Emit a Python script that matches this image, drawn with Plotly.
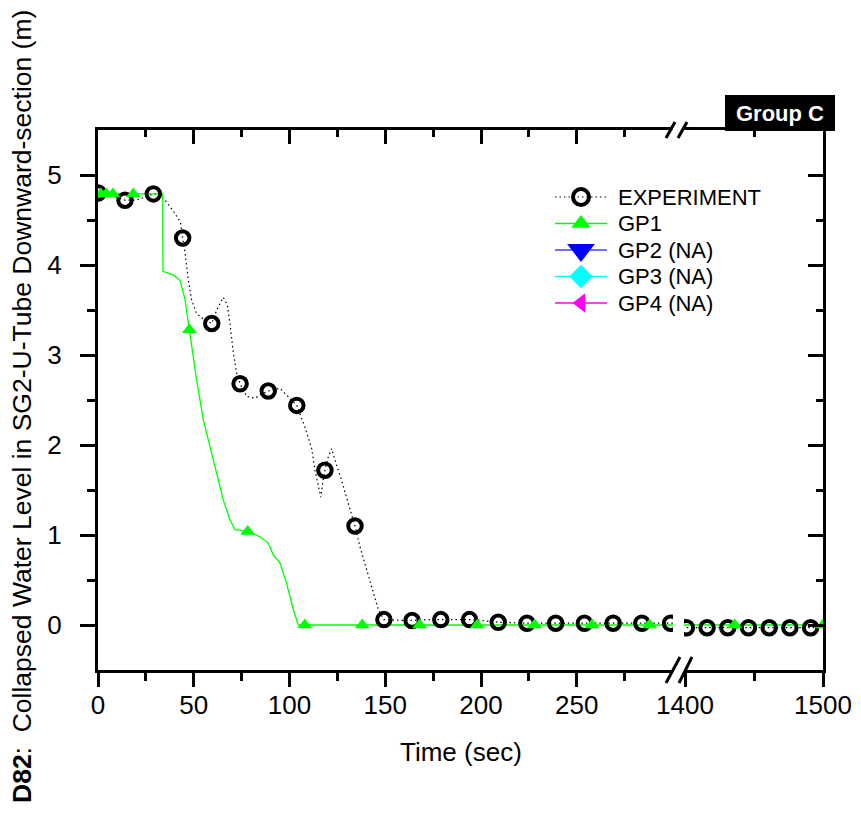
import plotly.graph_objects as go

# ---------------- data ----------------
# EXPERIMENT: continuous (dotted) record
exp_t = [0, 5, 10, 14, 20, 25, 29, 32, 35, 39, 43, 44.2, 45.4, 47.2, 48.9, 51.5, 55, 59.4,
         62, 65.4, 67.5, 68.9, 70.7, 72.4, 74.2, 77.6, 82, 85, 88.9, 95, 99.4, 103.8, 108,
         111.6, 113.3, 115, 116.3, 117.3, 118.5, 120.3, 122, 123.8, 127.2, 130.7, 134.2,
         136.8, 140.3, 143.8, 146.4, 149.3, 160, 175, 195, 210, 225, 240, 270, 301]
exp_y = [4.80, 4.78, 4.75, 4.72, 4.72, 4.76, 4.79, 4.78, 4.72, 4.61, 4.48, 4.30, 4.15, 3.83,
         3.61, 3.46, 3.40, 3.35, 3.50, 3.64, 3.56, 3.35, 3.02, 2.80, 2.68, 2.54, 2.52, 2.56,
         2.60, 2.63, 2.54, 2.44, 2.20, 1.96, 1.72, 1.54, 1.42, 1.57, 1.72, 1.87, 1.96, 1.83,
         1.61, 1.35, 1.10, 0.87, 0.61, 0.35, 0.17, 0.06, 0.05, 0.06, 0.06, 0.03, 0.02, 0.02,
         0.02, 0.02]
# EXPERIMENT symbols
exp_mt = [0, 14.1, 28.9, 44.2, 59.4, 74.2, 88.9, 103.8, 118.5, 134.2, 149.3, 164, 179, 194,
          209, 224, 239, 254, 269, 284, 299]
exp_my = [4.80, 4.72, 4.79, 4.30, 3.35, 2.68, 2.60, 2.44, 1.72, 1.10, 0.06, 0.05, 0.06, 0.06,
          0.03, 0.02, 0.02, 0.02, 0.02, 0.02, 0.02]
# EXPERIMENT, late segment (1400-1500 s)
exp_rt = [1398, 1500]
exp_ry = [-0.03, -0.03]
exp_rmt = [1401, 1416, 1431, 1446, 1461, 1476, 1491]
exp_rmy = [-0.03, -0.03, -0.03, -0.03, -0.03, -0.03, -0.03]

# GP1 continuous curve
gp1_t = [0, 33.8, 33.9, 39.3, 42.8, 45.4, 47.7, 51.5, 55, 58.5, 62, 65.4, 68.9, 71.5, 78.2,
         84.6, 88.9, 91.5, 95, 98.5, 102, 104.6, 301]
gp1_y = [4.79, 4.79, 3.93, 3.89, 3.83, 3.62, 3.28, 2.72, 2.28, 1.98, 1.69, 1.39, 1.17, 1.06,
         1.04, 0.98, 0.91, 0.78, 0.69, 0.46, 0.17, 0.0, 0.0]
gp1_mt = [1.5, 4.3, 7.8, 18.4, 47.7, 78.2, 108, 138, 168, 198, 228, 258, 288]
gp1_my = [4.79, 4.79, 4.79, 4.79, 3.28, 1.04, 0, 0, 0, 0, 0, 0, 0]
gp1_rt = [1398, 1500]
gp1_ry = [0, 0]
gp1_rmt = [1436, 1500]
gp1_rmy = [0, 0]

legend_names = ["EXPERIMENT", "GP1", "GP2 (NA)", "GP3 (NA)", "GP4 (NA)"]

x_left_ticks = [0, 50, 100, 150, 200, 250]
x_left_minor = [25, 75, 125, 175, 225, 275]
x_right_ticks = [1400, 1500]
x_right_minor = [1450]
y_ticks = [0, 1, 2, 3, 4, 5]
y_minor = [0.5, 1.5, 2.5, 3.5, 4.5]

# ---------------- styles ----------------
FONT = "Liberation Sans, Arial, sans-serif"
BLACK = "#000000"
GREEN = "#00ff00"
exp_line = dict(color=BLACK, width=1.2, dash="1.5px,3px")
exp_marker = dict(symbol="circle-open", size=13.5, color=BLACK, line=dict(color=BLACK, width=4))
gp1_line = dict(color=GREEN, width=1.3)
gp1_marker = dict(symbol="triangle-up", size=13, color=GREEN)

legend_styles = [
    dict(line=exp_line, marker=dict(symbol="circle-open", size=16, color=BLACK,
                                    line=dict(color=BLACK, width=4))),
    dict(line=gp1_line, marker=dict(symbol="triangle-up", size=17, color=GREEN)),
    dict(line=dict(color="#4040ff", width=1.5), marker=dict(symbol="triangle-down", size=24,
                                                           color="#0000ff")),
    dict(line=dict(color="#00ffff", width=1.5), marker=dict(symbol="diamond", size=18,
                                                           color="#00ffff")),
    dict(line=dict(color="#ff00ff", width=1.5), marker=dict(symbol="triangle-left", size=17,
                                                           color="#ff00ff")),
]

fig = go.Figure()

# left segment
fig.add_trace(go.Scatter(x=exp_t, y=exp_y, mode="lines", line=exp_line, name="EXPERIMENT",
                         showlegend=False, xaxis="x", yaxis="y"))
fig.add_trace(go.Scatter(x=gp1_t, y=gp1_y, mode="lines", line=gp1_line, name="GP1",
                         showlegend=False, xaxis="x", yaxis="y"))
fig.add_trace(go.Scatter(x=exp_mt, y=exp_my, mode="markers", marker=exp_marker,
                         name="EXPERIMENT", showlegend=False, xaxis="x", yaxis="y"))
fig.add_trace(go.Scatter(x=gp1_mt, y=gp1_my, mode="markers", marker=gp1_marker, name="GP1",
                         showlegend=False, xaxis="x", yaxis="y"))
# right segment
fig.add_trace(go.Scatter(x=exp_rt, y=exp_ry, mode="lines", line=exp_line, name="EXPERIMENT",
                         showlegend=False, xaxis="x2", yaxis="y"))
fig.add_trace(go.Scatter(x=gp1_rt, y=gp1_ry, mode="lines", line=gp1_line, name="GP1",
                         showlegend=False, xaxis="x2", yaxis="y"))
fig.add_trace(go.Scatter(x=exp_rmt, y=exp_rmy, mode="markers", marker=exp_marker,
                         name="EXPERIMENT", showlegend=False, xaxis="x2", yaxis="y"))
fig.add_trace(go.Scatter(x=gp1_rmt, y=gp1_rmy, mode="markers", marker=gp1_marker, name="GP1",
                         showlegend=False, xaxis="x2", yaxis="y"))

# empty traces so the mirrored (top / right) frame axes get drawn
for xa, ya in [("x3", "y"), ("x4", "y"), ("x2", "y2")]:
    fig.add_trace(go.Scatter(x=[None], y=[None], mode="lines", showlegend=False,
                             hoverinfo="skip", xaxis=xa, yaxis=ya))

# legend block (own small hidden axes: row index 0..4, sample line 0..1)
for i, (nm, st) in enumerate(zip(legend_names, legend_styles)):
    fig.add_trace(go.Scatter(x=[0, 1], y=[i, i], mode="lines", line=st["line"], name=nm,
                             showlegend=False, hoverinfo="skip", xaxis="x5", yaxis="y3",
                             cliponaxis=False))
    fig.add_trace(go.Scatter(x=[0.5], y=[i], mode="markers", marker=st["marker"], name=nm,
                             showlegend=False, xaxis="x5", yaxis="y3", cliponaxis=False))

W, H = 861, 839
L, R, T, B = 98, 823, 130, 670
pw, ph = R - L, B - T
d1 = (673 - L) / pw
d2 = (684 - L) / pw
xr_left = [0, (673 - L) / 1.915]
xr_right = [1400 - 1 / 1.38, 1500]
yr = [-0.5, 5.5]


def px(xp):
    return (xp - L) / pw


def py(yp):
    return (B - yp) / ph


tickfont = dict(family=FONT, size=26, color=BLACK)
common_x = dict(showgrid=False, zeroline=False, showline=True, linecolor=BLACK, linewidth=3,
                ticks="outside", ticklen=14, tickwidth=3, tickcolor=BLACK, tickfont=tickfont,
                ticklabelstandoff=-4)

fig.update_layout(
    width=W, height=H,
    margin=dict(l=L, r=W - R, t=T, b=H - B, autoexpand=False),
    paper_bgcolor="white", plot_bgcolor="white",
    font=dict(family=FONT, color=BLACK),
    showlegend=False,
    xaxis=dict(domain=[0, d1], range=xr_left, tickmode="array", tickvals=x_left_ticks,
               minor=dict(tickvals=x_left_minor, ticks="outside", ticklen=8, tickwidth=3,
                          tickcolor=BLACK),
               anchor="y", **common_x),
    xaxis2=dict(domain=[d2, 1], range=xr_right, tickmode="array", tickvals=x_right_ticks,
                minor=dict(tickvals=x_right_minor, ticks="outside", ticklen=8, tickwidth=3,
                           tickcolor=BLACK),
                anchor="y", **common_x),
    xaxis3=dict(overlaying="x", side="top", anchor="y", range=xr_left, showgrid=False,
                zeroline=False, showline=True, linecolor=BLACK, linewidth=3,
                tickmode="array", tickvals=x_left_ticks, showticklabels=False,
                ticks="inside", ticklen=14, tickwidth=3, tickcolor=BLACK,
                minor=dict(tickvals=x_left_minor, ticks="inside", ticklen=7, tickwidth=3,
                           tickcolor=BLACK)),
    xaxis4=dict(overlaying="x2", side="top", anchor="y", range=xr_right, showgrid=False,
                zeroline=False, showline=True, linecolor=BLACK, linewidth=3,
                tickmode="array", tickvals=[], showticklabels=False,
                ticks="inside", ticklen=14, tickwidth=3, tickcolor=BLACK,
                minor=dict(tickvals=x_right_minor, ticks="inside", ticklen=7, tickwidth=3,
                           tickcolor=BLACK)),
    yaxis=dict(domain=[0, 1], range=yr, anchor="x", showgrid=False, zeroline=False,
               showline=True, linecolor=BLACK, linewidth=3, tickmode="array",
               tickvals=y_ticks, ticks="outside", ticklen=15, tickwidth=3, tickcolor=BLACK,
               tickfont=tickfont, ticklabelstandoff=13,
               minor=dict(tickvals=y_minor, ticks="outside", ticklen=8, tickwidth=3,
                          tickcolor=BLACK)),
    yaxis2=dict(overlaying="y", side="right", anchor="x2", range=yr, showgrid=False,
                zeroline=False, showline=True, linecolor=BLACK, linewidth=3,
                tickmode="array", tickvals=y_ticks, showticklabels=False,
                ticks="inside", ticklen=15, tickwidth=3, tickcolor=BLACK,
                minor=dict(tickvals=y_minor, ticks="inside", ticklen=7, tickwidth=3,
                           tickcolor=BLACK)),
    # legend sample area
    xaxis5=dict(domain=[px(555), px(607)], range=[0, 1], visible=False, anchor="y3",
                fixedrange=True),
    yaxis3=dict(domain=[py(316.25), py(183.75)], range=[4.5, -0.5], visible=False,
                anchor="x5", fixedrange=True),
)

# axis-break marks
shapes = []
for (x0, y0, x1, y1) in [(666, 683, 680, 657), (679, 683, 692, 657),
                         (666, 138, 675, 122), (678, 138, 687, 122)]:
    shapes.append(dict(type="line", xref="paper", yref="paper", x0=px(x0), y0=py(y0),
                       x1=px(x1), y1=py(y1), line=dict(color=BLACK, width=3)))
# Group C box
shapes.append(dict(type="rect", xref="paper", yref="paper", x0=px(725), x1=px(835),
                   y0=py(131), y1=py(95), fillcolor=BLACK, line=dict(width=0)))
fig.update_layout(shapes=shapes)

fig.add_annotation(xref="paper", yref="paper", x=px(780), y=py(114), xanchor="center",
                   yanchor="middle", text="<b>Group C</b>", showarrow=False,
                   font=dict(family=FONT, size=22, color="white"))
fig.add_annotation(xref="paper", yref="paper", x=0.5, y=py(752), xanchor="center",
                   yanchor="middle", text="Time (sec)", showarrow=False,
                   font=dict(family=FONT, size=26, color=BLACK))
fig.add_annotation(xref="paper", yref="paper", x=px(22), y=py(407), xanchor="center",
                   yanchor="middle", textangle=-90,
                   text="<b>D82</b>:  Collapsed Water Level in SG2-U-Tube Downward-section (m)",
                   showarrow=False, font=dict(family=FONT, size=26.5, color=BLACK))

# legend labels
row_px = [197, 223.5, 250, 276.5, 303]
for nm, yy in zip(legend_names, row_px):
    fig.add_annotation(xref="paper", yref="paper", x=px(616), y=py(yy), xanchor="left",
                       yanchor="middle", text=nm, showarrow=False,
                       font=dict(family=FONT, size=22, color=BLACK))

fig.write_html("out.html", config={"displayModeBar": False},
               post_script="document.body.style.margin='0px';")
